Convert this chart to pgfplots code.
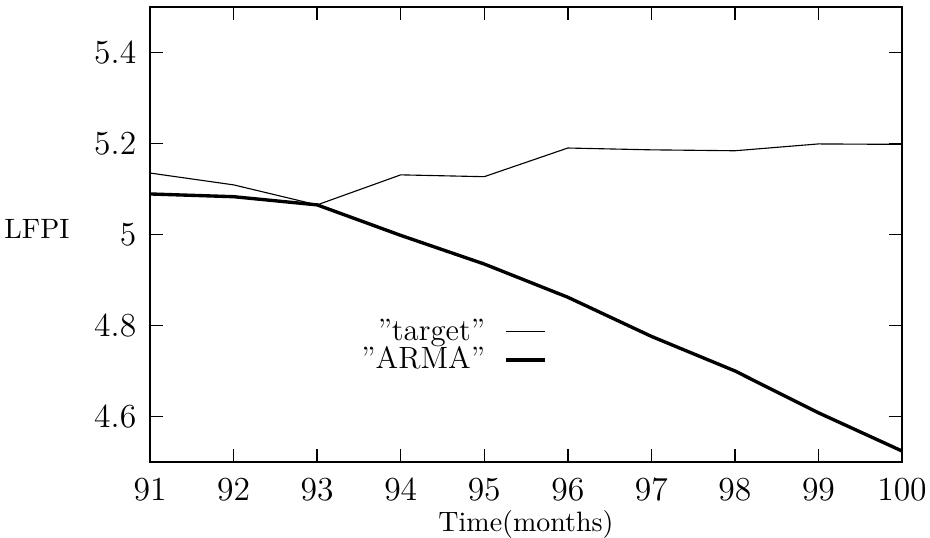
\documentclass[border=0pt]{standalone}
\usepackage{pgfplots}
\pgfplotsset{compat=1.18}
\usetikzlibrary{calc}
\begin{document}
\begin{tikzpicture}
\begin{axis}[
  scale only axis,
  width=268.6pt,
  height=162.5pt,
  xmin=91, xmax=100,
  ymin=4.5, ymax=5.5,
  xtick={91,92,...,100},
  ytick={4.6,4.8,5,5.2,5.4},
  yticklabels={4.6,4.8,5,5.2,5.4},
  tick align=inside,
  major tick length=4.7pt,
  tick style={line width=0.5pt, black},
  axis line style={line width=0.7pt},
  tick label style={font=\large},
  xticklabel shift=2.5pt,
  yticklabel shift=1.4pt,
  xlabel={Time(months)},
  ylabel={LFPI},
  label style={font=\small},
  every axis x label/.style={at={(axis description cs:0.5,0)}, anchor=center, yshift=-22.5pt},
  every axis y label/.style={at={(axis description cs:0,0.5)}, anchor=east, inner sep=0pt, xshift=-28.6pt, yshift=2pt},
  legend plot pos=right,
  legend cell align=right,
  legend image code/.code={\path (0pt,0pt); \draw[#1] (5pt,0pt) -- (19pt,0pt);},
  legend style={draw=none, fill=none, at={(0.54,0.255)}, anchor=east, font=\fontsize{11}{13}\selectfont, row sep=-3pt},
]
\addplot[black, line width=0.4pt] coordinates {
  (91, 5.135)
  (92, 5.109)
  (93, 5.065)
  (94, 5.131)
  (95, 5.127)
  (96, 5.190)
  (97, 5.186)
  (98, 5.184)
  (99, 5.199)
  (100, 5.198)
};
\addlegendentry{''target''}
\addplot[black, line width=1.2pt] coordinates {
  (91, 5.089)
  (92, 5.083)
  (93, 5.065)
  (94, 4.998)
  (95, 4.935)
  (96, 4.862)
  (97, 4.776)
  (98, 4.700)
  (99, 4.608)
  (100, 4.524)
};
\addlegendentry{''ARMA''}
\coordinate (sw) at (rel axis cs:0,0);
\coordinate (ne) at (rel axis cs:1,1);
\end{axis}
\pgfresetboundingbox
\path ($(sw)+(-53.6pt,-27.1pt)$) rectangle ($(ne)+(10pt,2.5pt)$);
\end{tikzpicture}
\end{document}
